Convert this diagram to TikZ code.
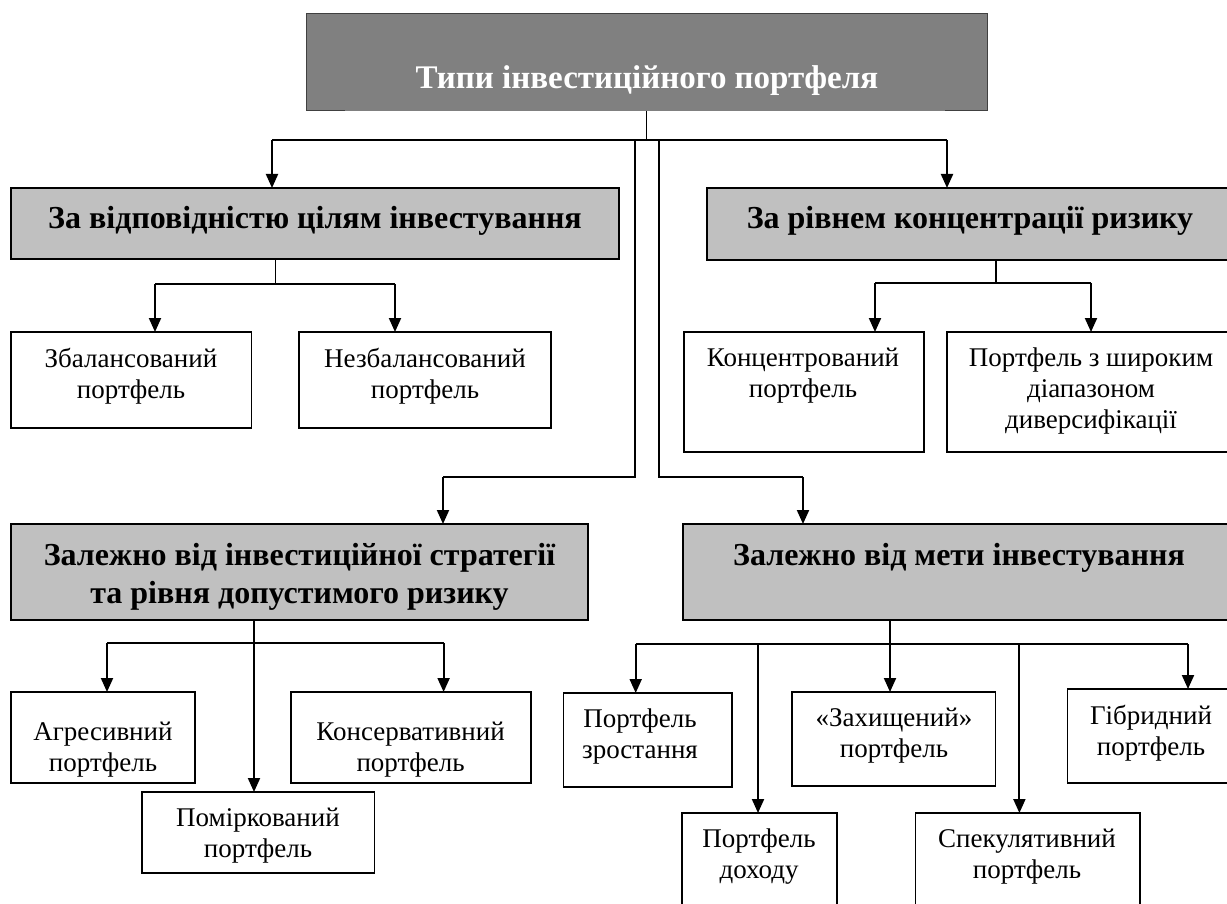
\documentclass[tikz,border=0pt]{standalone}
\usepackage{fontspec}
\setmainfont{Liberation Serif}
\usetikzlibrary{arrows.meta}
\definecolor{topgray}{HTML}{808080}
\definecolor{topedge}{HTML}{404040}
\definecolor{boxgray}{HTML}{C0C0C0}
\tikzset{
  box/.style={draw=black, line width=1.6pt, fill=white, inner sep=0pt, outer sep=0pt, anchor=north west},
  gbox/.style={box, fill=boxgray},
  lbl/.style={inner sep=0pt, align=center, font=\fontsize{27}{31}\selectfont},
  blbl/.style={inner sep=0pt, align=center, font=\fontsize{32}{38}\selectfont\bfseries},
  arr/.style={line width=2pt, -{Triangle[width=12pt,length=14pt]}},
  ln/.style={line width=2pt},
  stem/.style={line width=1.2pt},
}
\begin{document}
\begin{tikzpicture}[x=1pt,y=-1pt]
\useasboundingbox (0,0) rectangle (1227,904);
\clip (0,0) rectangle (1227,904);
% top box
\node[fill=topgray, inner sep=0pt, outer sep=0pt, anchor=north west, minimum width=681pt, minimum height=97pt] (top) at (306,14) {};
\draw[topedge, line width=1pt] (top.south west) -- (top.north west) -- (top.north east) -- (top.south east);
\draw[topedge, line width=1pt] (top.south west) -- ++(39,0);
\draw[topedge, line width=1pt] (top.south east) -- ++(-42,0);
\node[blbl, text=white, font=\fontsize{33}{38}\selectfont\bfseries] (ttop) at (647,81) {Типи інвестиційного портфеля};
% level 1 boxes
\node[gbox, minimum width=608pt, minimum height=71pt] (b1) at (11,188) {};
\node[gbox, minimum width=528pt, minimum height=72pt] (b2) at (707,188) {};
\node[blbl] (tb1) at (315,221) {За відповідністю цілям інвестування};
\node[blbl] (tb2) at (970,221) {За рівнем концентрації ризику};
% level 2 under b1 and b2
\node[box, minimum width=240.5pt, minimum height=96pt] (s1) at (11,332) {};
\node[box, minimum width=252pt, minimum height=96pt] (s2) at (299,332) {};
\node[box, minimum width=240pt, minimum height=120pt] (s3) at (684,332) {};
\node[box, minimum width=288pt, minimum height=120pt] (s4) at (947,332) {};
\node[lbl] (ts1) at (131,376) {Збалансований\\портфель};
\node[lbl] (ts2) at (425,376) {Незбалансований\\портфель};
\node[lbl] (ts3) at (803,376) {Концентрований\\портфель};
\node[lbl] (ts4) at (1091,391) {Портфель з широким\\діапазоном\\диверсифікації};
% lower level 1 boxes
\node[gbox, minimum width=577pt, minimum height=96pt] (b3) at (11,524) {};
\node[gbox, minimum width=552pt, minimum height=96pt] (b4) at (683,524) {};
\node[blbl] (tb3) at (299.5,577) {Залежно від інвестиційної стратегії\\та рівня допустимого ризику};
\node[blbl] (tb4) at (959,558) {Залежно від мети інвестування};
% children of b3
\node[box, minimum width=184pt, minimum height=91pt] (a1) at (11,692) {};
\node[box, minimum width=240pt, minimum height=91pt] (a2) at (291,692) {};
\node[box, minimum width=232.5pt, minimum height=81pt] (a3) at (142,792) {};
\node[lbl] (ta1) at (103,750) {Агресивний\\портфель};
\node[lbl] (ta2) at (410.6,750) {Консервативний\\портфель};
\node[lbl] (ta3) at (258,836) {Поміркований\\портфель};
% children of b4
\node[box, minimum width=168.6pt, minimum height=94pt] (c1) at (563.4,693) {};
\node[box, minimum width=203.6pt, minimum height=94pt] (c2) at (792,692) {};
\node[box, minimum width=167.6pt, minimum height=94pt] (c3) at (1067.4,689) {};
\node[box, minimum width=155pt, minimum height=102pt] (c4) at (682,813) {};
\node[box, minimum width=224.4pt, minimum height=102pt] (c5) at (915.6,813) {};
\node[lbl] (tc1) at (640,737) {Портфель\\зростання};
\node[lbl] (tc2) at (894,736) {«Захищений»\\портфель};
\node[lbl] (tc3) at (1151,733) {Гібридний\\портфель};
\node[lbl] (tc4) at (759,857) {Портфель\\доходу};
\node[lbl] (tc5) at (1027,857) {Спекулятивний\\портфель};
% connectors from top
\coordinate (k1) at (272,140);
\coordinate (k2) at (947,140);
\draw[stem] (top.south) -- (top.south |- k1);
\draw[ln] (k1) -- (k2);
\draw[arr] (k1) -- (b1.north -| k1);
\draw[arr] (k2) -- (b2.north -| k2);
\coordinate (v1) at (635,140);
\coordinate (v1b) at (635,477);
\coordinate (v1c) at (443,477);
\coordinate (v2) at (659,140);
\coordinate (v2b) at (659,477);
\coordinate (v2c) at (803,477);
\draw[stem] (v1) -- (v1b) -- (v1c);
\draw[stem] (v2) -- (v2b) -- (v2c);
\draw[arr] (v1c) -- (b3.north -| v1c);
\draw[arr] (v2c) -- (b4.north -| v2c);
% b1 children
\coordinate (h1) at (275.6,284);
\coordinate (h1a) at (155,284);
\coordinate (h1b) at (395,284);
\draw[stem] (b1.south -| h1) -- (h1);
\draw[ln] (h1a) -- (h1b);
\draw[arr] (h1a) -- (s1.north -| h1a);
\draw[arr] (h1b) -- (s2.north -| h1b);
% b2 children
\coordinate (h2) at (996,283);
\coordinate (h2a) at (875,283);
\coordinate (h2b) at (1091,283);
\draw[stem] (b2.south -| h2) -- (h2);
\draw[ln] (h2a) -- (h2b);
\draw[arr] (h2a) -- (s3.north -| h2a);
\draw[arr] (h2b) -- (s4.north -| h2b);
% b3 children
\coordinate (h3) at (254,643);
\coordinate (h3a) at (107,643);
\coordinate (h3b) at (443.6,643);
\draw[ln] (h3a) -- (h3b);
\draw[arr] (b3.south -| h3) -- (a3.north -| h3);
\draw[arr] (h3a) -- (a1.north -| h3a);
\draw[arr] (h3b) -- (a2.north -| h3b);
% b4 children
\coordinate (h4) at (890,644);
\coordinate (h4a) at (635.7,644);
\coordinate (h4b) at (758,644);
\coordinate (h4c) at (1019.4,644);
\coordinate (h4d) at (1188,644);
\draw[stem] (b4.south -| h4) -- (h4);
\draw[ln] (h4a) -- (h4d);
\draw[arr] (h4) -- (c2.north -| h4);
\draw[arr] (h4a) -- (c1.north -| h4a);
\draw[arr] (h4b) -- (c4.north -| h4b);
\draw[arr] (h4c) -- (c5.north -| h4c);
\draw[arr] (h4d) -- (c3.north -| h4d);
\end{tikzpicture}
\end{document}
